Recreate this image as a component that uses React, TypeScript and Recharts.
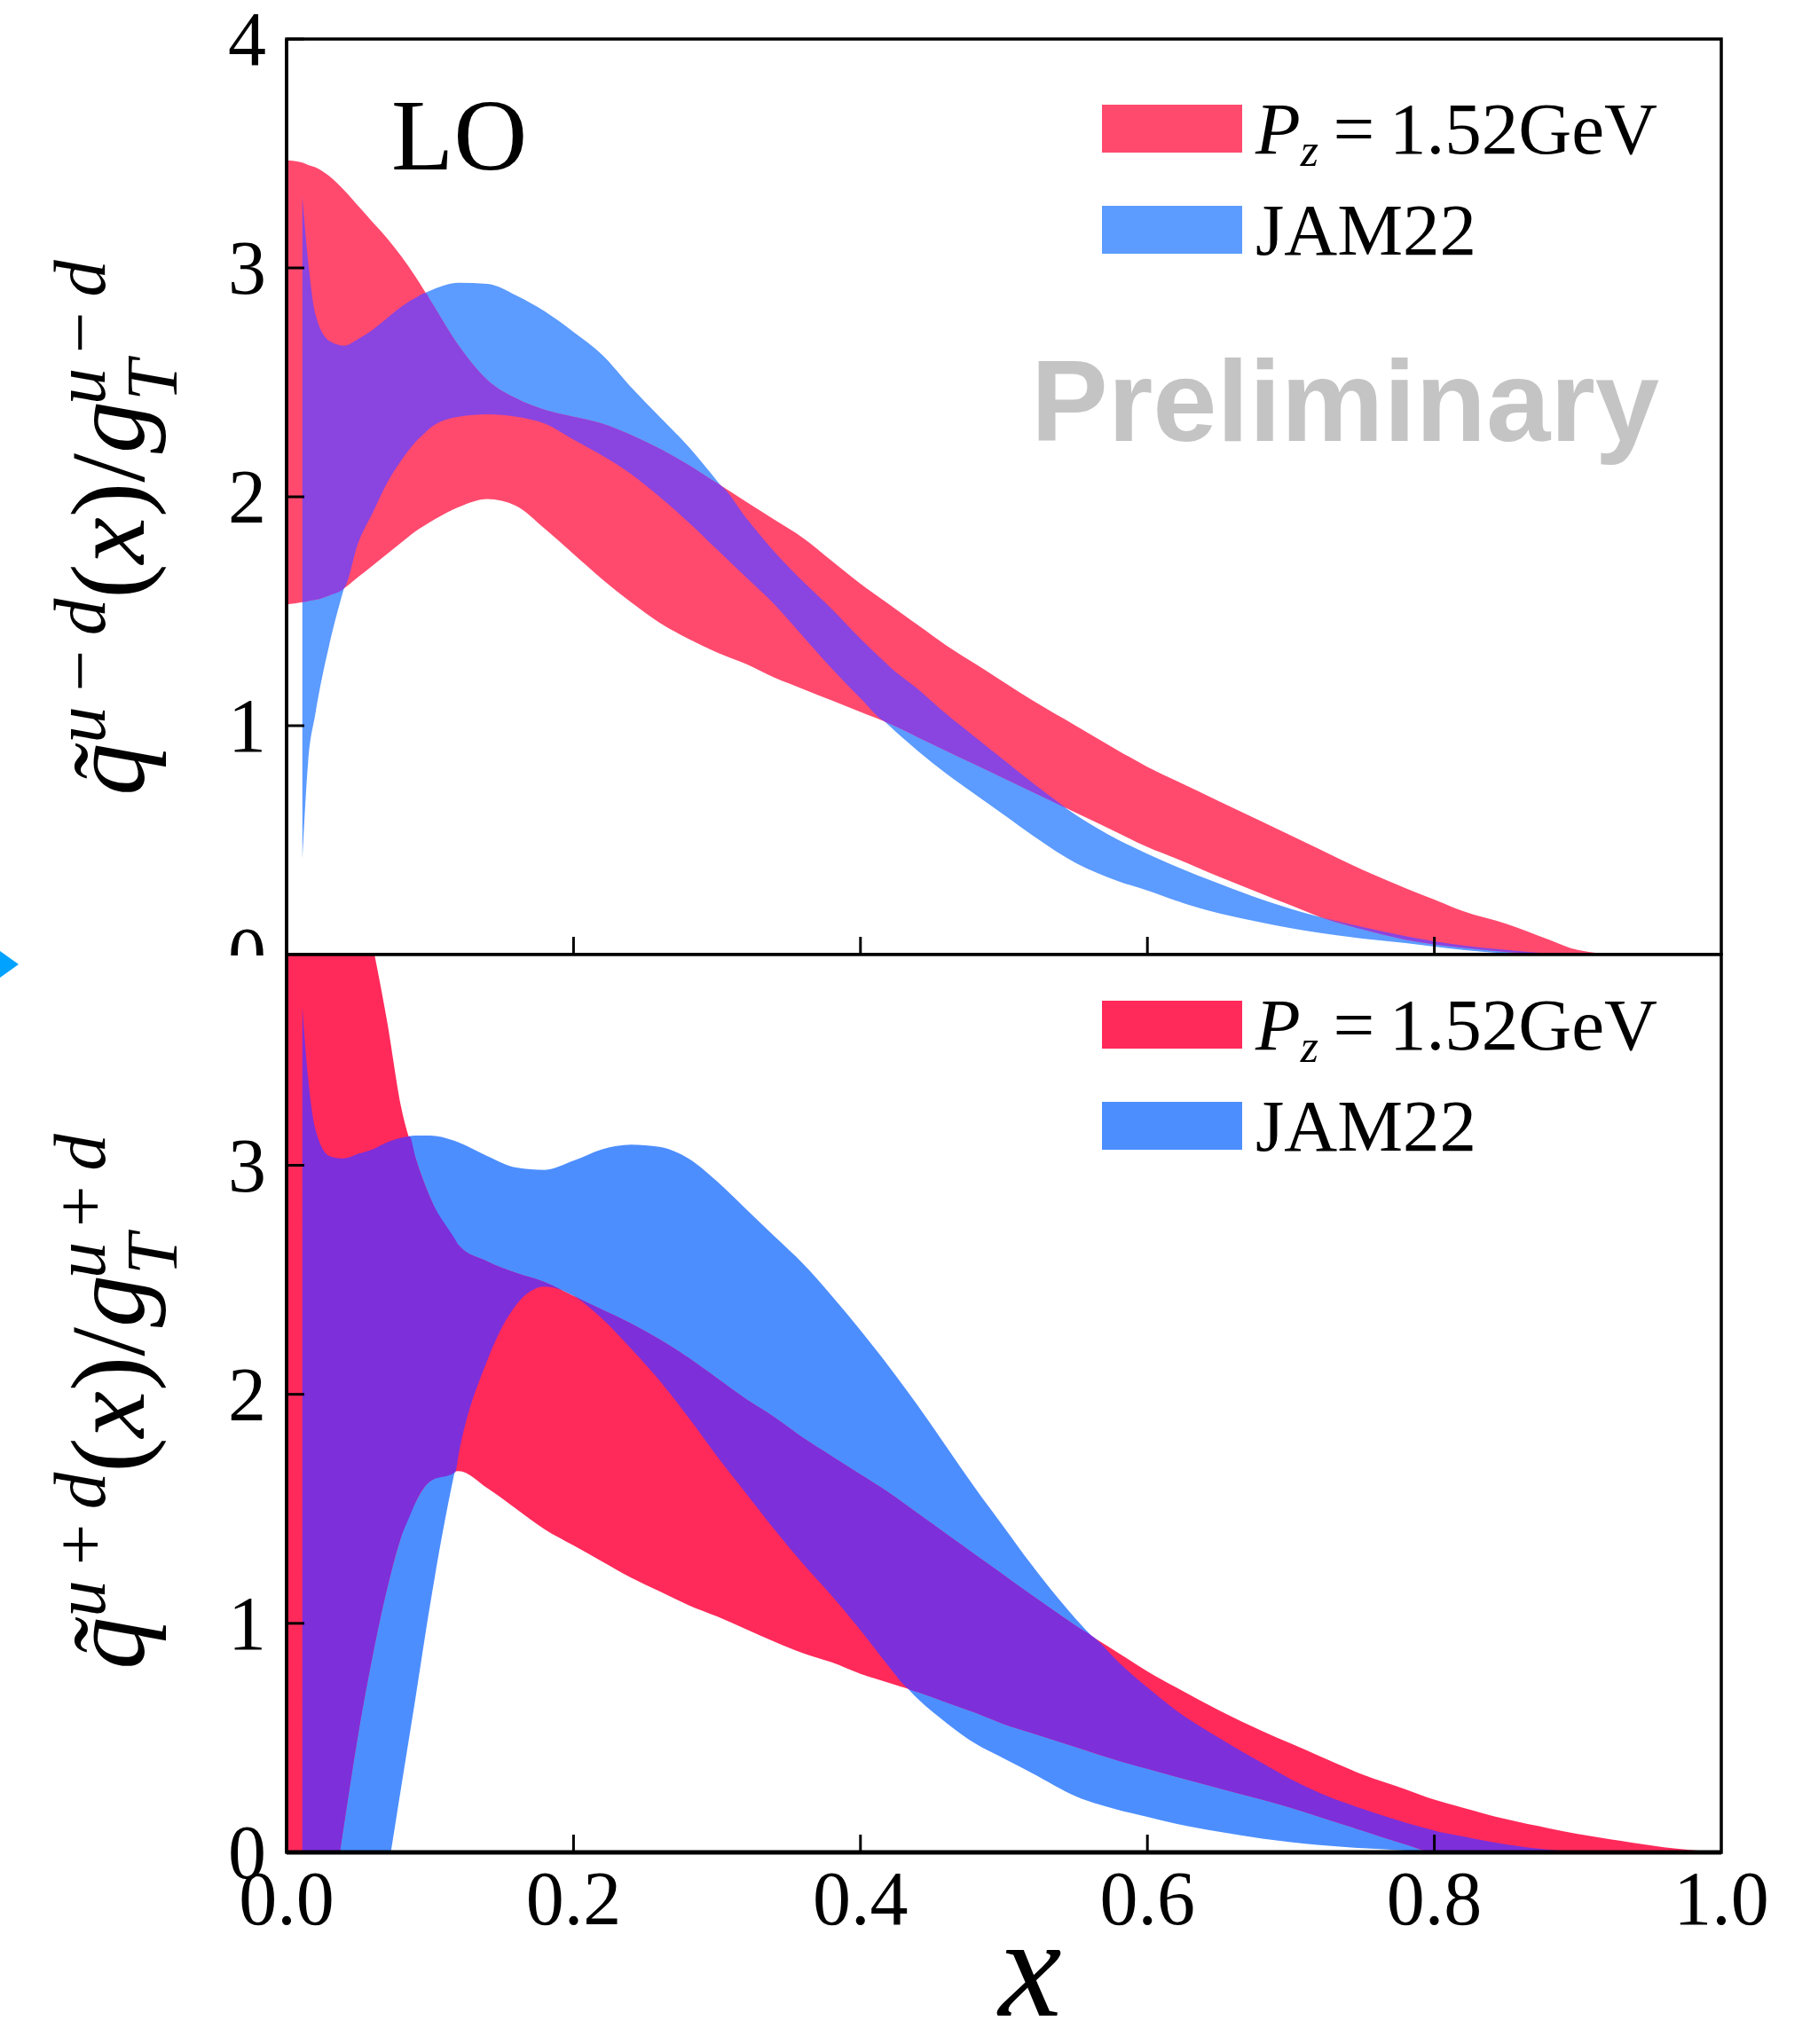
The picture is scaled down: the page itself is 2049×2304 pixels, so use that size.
import React from 'react';
import { ComposedChart, Area, XAxis, YAxis, Legend, ReferenceArea } from 'recharts';

const SERIF = '"Liberation Serif", "Times New Roman", Times, serif';
const SANS = '"Liberation Sans", Arial, Helvetica, sans-serif';

// x grid shared by every band
const X = [
  0, 0.011, 0.015, 0.02, 0.03, 0.04, 0.05, 0.06, 0.07, 0.08,
  0.09, 0.1, 0.12, 0.14, 0.16, 0.18, 0.2, 0.22, 0.24, 0.26,
  0.28, 0.3, 0.32, 0.34, 0.36, 0.38, 0.4, 0.42, 0.44, 0.46,
  0.48, 0.5, 0.52, 0.55, 0.58, 0.6, 0.62, 0.65, 0.68, 0.7,
  0.72, 0.75, 0.78, 0.8, 0.82, 0.85, 0.88, 0.9, 0.93, 0.96, 1.0,
];

// upper panel: u-d, lattice band (Pz = 1.52 GeV)
const UD_PZ_HI = [
  3.47, 3.46, 3.45, 3.44, 3.4, 3.34, 3.27, 3.2, 3.13, 3.05,
  2.96, 2.86, 2.66, 2.51, 2.43, 2.38, 2.35, 2.32, 2.27, 2.21,
  2.14, 2.06, 1.98, 1.9, 1.82, 1.72, 1.62, 1.53, 1.44, 1.35,
  1.27, 1.19, 1.11, 1.0, 0.89, 0.82, 0.76, 0.67, 0.58, 0.52,
  0.46, 0.37, 0.29, 0.24, 0.19, 0.135, 0.065, 0.02, 0, 0, 0,
];
const UD_PZ_LO = [
  1.53, 1.54, 1.545, 1.55, 1.57, 1.6, 1.65, 1.7, 1.75, 1.8,
  1.85, 1.89, 1.955, 1.99, 1.96, 1.86, 1.75, 1.64, 1.54, 1.45,
  1.38, 1.32, 1.27, 1.21, 1.16, 1.11, 1.06, 1.01, 0.95, 0.89,
  0.83, 0.77, 0.71, 0.62, 0.53, 0.47, 0.42, 0.34, 0.265, 0.215,
  0.165, 0.11, 0.065, 0.045, 0.03, 0.012, 0.003, 0, 0, 0, 0,
];
// upper panel: u-d, JAM22 band
const UD_JAM_HI = [
  null, 3.31, 3.03, 2.8, 2.68, 2.66, 2.69, 2.73, 2.78, 2.83,
  2.87, 2.9, 2.935, 2.93, 2.88, 2.81, 2.72, 2.62, 2.48, 2.35,
  2.22, 2.07, 1.91, 1.76, 1.63, 1.51, 1.38, 1.26, 1.16, 1.05,
  0.95, 0.85, 0.75, 0.61, 0.5, 0.44, 0.385, 0.31, 0.24, 0.2,
  0.165, 0.12, 0.08, 0.058, 0.04, 0.02, 0.005, 0, 0, 0, 0,
];
const UD_JAM_LO = [
  null, 0.42, 0.84, 1.05, 1.36, 1.6, 1.8, 1.93, 2.06, 2.16,
  2.24, 2.3, 2.35, 2.36, 2.35, 2.32, 2.25, 2.18, 2.1, 2.0,
  1.89, 1.77, 1.65, 1.53, 1.39, 1.25, 1.12, 1.0, 0.89, 0.79,
  0.7, 0.61, 0.52, 0.4, 0.32, 0.28, 0.235, 0.18, 0.14, 0.115,
  0.095, 0.07, 0.05, 0.035, 0.02, 0.005, 0, 0, 0, 0, 0,
];

// lower panel: u+d, lattice band
const UPD_PZ_HI = [
  5.8, 5.45, 5.32, 5.15, 4.85, 4.55, 4.25, 3.96, 3.63, 3.25,
  3.03, 2.86, 2.65, 2.58, 2.53, 2.49, 2.43, 2.37, 2.31, 2.24,
  2.16, 2.07, 1.98, 1.9, 1.81, 1.73, 1.65, 1.57, 1.48, 1.39,
  1.3, 1.21, 1.12, 0.99, 0.87, 0.79, 0.72, 0.62, 0.53, 0.475,
  0.42, 0.34, 0.275, 0.23, 0.195, 0.145, 0.105, 0.08, 0.05, 0.022, 0,
];
const UPD_PZ_LO = [
  -1.5, -1.05, -0.9, -0.7, -0.3, 0.12, 0.52, 0.86, 1.15, 1.38,
  1.53, 1.62, 1.665, 1.59, 1.5, 1.41, 1.34, 1.27, 1.2, 1.14,
  1.08, 1.03, 0.975, 0.92, 0.87, 0.83, 0.78, 0.74, 0.7, 0.655,
  0.61, 0.56, 0.52, 0.46, 0.4, 0.365, 0.33, 0.28, 0.23, 0.195,
  0.155, 0.095, 0.035, 0, 0, 0, 0, 0, 0, 0, 0,
];
// lower panel: u+d, JAM22 band
const UPD_JAM_HI = [
  null, 3.69, 3.38, 3.16, 3.04, 3.03, 3.05, 3.07, 3.1, 3.12,
  3.13, 3.13, 3.1, 3.04, 2.99, 2.98, 3.02, 3.07, 3.09, 3.08,
  3.03, 2.93, 2.81, 2.69, 2.57, 2.43, 2.28, 2.12, 1.95, 1.77,
  1.59, 1.42, 1.25, 1.02, 0.83, 0.72, 0.62, 0.5, 0.39, 0.32,
  0.26, 0.19, 0.13, 0.095, 0.07, 0.035, 0.012, 0.004, 0, 0, 0,
];
const UPD_JAM_LO = [
  null, -3.0, -2.7, -2.3, -1.7, -1.2, -0.8, -0.45, -0.1, 0.29,
  0.68, 1.08, 1.74, 2.15, 2.39, 2.47, 2.43, 2.33, 2.2, 2.06,
  1.9, 1.73, 1.57, 1.41, 1.26, 1.12, 0.97, 0.81, 0.67, 0.565,
  0.475, 0.41, 0.345, 0.245, 0.185, 0.155, 0.125, 0.09, 0.06, 0.045,
  0.032, 0.018, 0.008, 0.002, 0, 0, 0, 0, 0, 0, 0,
];

const X_TICKS = [0, 0.2, 0.4, 0.6, 0.8, 1.0];
const X_INNER = [0.2, 0.4, 0.6, 0.8];
const TOP_Y_TICKS = [0, 1, 2, 3, 4];
const BOT_Y_TICKS = [0, 1, 2, 3];
const SERIES_NAMES = ['P_z = 1.52GeV', 'JAM22'];

const TOP_COLORS = { red: '#FF4A6E', blue: '#5C9BFF', both: '#8A44E0' };
const BOT_COLORS = { red: '#FF2A5A', blue: '#4D8EFF', both: '#7D2FDA' };

type Band = [number, number] | null;
type Row = { x: number; red: Band; blue: Band; both: Band };

function overlapOf(r: Band, b: Band): Band {
  if (!r || !b) return null;
  const lo = Math.max(r[0], b[0]);
  const hi = Math.min(r[1], b[1]);
  return hi >= lo ? [lo, hi] : null;
}

// rows for the chart; the purple layer is where both bands overlap,
// with the crossing points of the band edges added so it closes cleanly
function buildRows(rLo: any[], rHi: any[], bLo: any[], bHi: any[]): Row[] {
  const rows: Row[] = [];
  for (let i = 0; i < X.length; i++) {
    const red: Band = rLo[i] != null ? [rLo[i], rHi[i]] : null;
    const blue: Band = bLo[i] != null ? [bLo[i], bHi[i]] : null;
    rows.push({ x: X[i], red, blue, both: overlapOf(red, blue) });
    if (i + 1 < X.length && red && blue && bLo[i + 1] != null) {
      const e0 = [rLo[i], rHi[i], bLo[i], bHi[i]];
      const e1 = [rLo[i + 1], rHi[i + 1], bLo[i + 1], bHi[i + 1]];
      const ts: number[] = [];
      [[1, 3], [0, 2], [1, 2], [3, 0]].forEach(([a, b]) => {
        const d0 = e0[a] - e0[b];
        const d1 = e1[a] - e1[b];
        if (d0 * d1 < 0) ts.push(d0 / (d0 - d1));
      });
      ts.sort((p, q) => p - q);
      ts.forEach((t) => {
        const e = e0.map((v, k) => v + (e1[k] - v) * t);
        const lo = Math.max(e[0], e[2]);
        const hi = Math.min(e[1], e[3]);
        rows.push({
          x: X[i] + (X[i + 1] - X[i]) * t,
          red: null,
          blue: null,
          both: hi >= lo - 1e-9 ? [lo, Math.max(lo, hi)] : null,
        });
      });
    }
  }
  return rows;
}

const topRows = buildRows(UD_PZ_LO, UD_PZ_HI, UD_JAM_LO, UD_JAM_HI);
const botRows = buildRows(UPD_PZ_LO, UPD_PZ_HI, UPD_JAM_LO, UPD_JAM_HI);

const TICK_LEN = 20;
const Y_GAP = 23;

function YTick(props: any) {
  const { x, y, payload } = props;
  const ax = x + Y_GAP;
  return (
    <g>
      {payload.value > 0 && (
        <line x1={ax} x2={ax + TICK_LEN} y1={y} y2={y} stroke="#000" strokeWidth={3} />
      )}
      <text x={x} y={y + 29} textAnchor="end" fontFamily={SERIF} fontSize={86} fill="#000">
        {payload.value}
      </text>
    </g>
  );
}

function XTick(props: any) {
  const { x, y, payload, showLabel } = props;
  return (
    <g>
      {X_INNER.includes(payload.value) && (
        <line x1={x} x2={x} y1={y} y2={y - TICK_LEN} stroke="#000" strokeWidth={3} />
      )}
      {showLabel && (
        <text x={x} y={y + 81} textAnchor="middle" fontFamily={SERIF} fontSize={86} fill="#000">
          {payload.value.toFixed(1)}
        </text>
      )}
    </g>
  );
}

function LegendBox({ colors }: { colors: string[] }) {
  return (
    <div style={{ fontFamily: SERIF, color: '#000' }}>
      {SERIES_NAMES.map((name, i) => (
        <div key={name} style={{ display: 'flex', height: 54, marginBottom: i === 0 ? 60 : 0 }}>
          <div style={{ width: 158, height: 54, background: colors[i] }} />
          <span style={{ marginLeft: 15, fontSize: 83, lineHeight: '54px', whiteSpace: 'nowrap' }}>
            {name.startsWith('P_z') ? (
              <>
                <i>P</i>
                <i style={{ fontSize: 52, position: 'relative', top: 14 }}>z</i>
                {name.slice(3).replace(' = ', '\u2009=\u2009')}
              </>
            ) : (
              name
            )}
          </span>
        </div>
      ))}
    </div>
  );
}

const frameStroke = { stroke: '#000', strokeWidth: 3.5 };

function Panel({
  rows, colors, height, margin, yMax, yTicks, xHeight, showXLabels, legendTop, xAxisWidth,
}: any) {
  return (
    <ComposedChart width={2049} height={height} data={rows} margin={margin}>
      <XAxis
        type="number" dataKey="x" domain={[0, 1]} ticks={X_TICKS} height={xHeight}
        axisLine={{ stroke: '#000', strokeWidth: xAxisWidth }} tickLine={false} tickSize={0} tickMargin={0}
        tick={<XTick showLabel={showXLabels} />} interval={0}
      />
      <YAxis
        type="number" domain={[0, yMax]} ticks={yTicks} width={100} allowDataOverflow
        axisLine={frameStroke} tickLine={false} tickSize={0} tickMargin={Y_GAP}
        tick={<YTick />} interval={0}
      />
      <Area
        type="monotone" dataKey="blue" stroke="none" fill={colors.blue} fillOpacity={1}
        connectNulls isAnimationActive={false} dot={false} activeDot={false}
      />
      <Area
        type="monotone" dataKey="red" stroke="none" fill={colors.red} fillOpacity={1}
        connectNulls isAnimationActive={false} dot={false} activeDot={false}
      />
      <Area
        type="monotone" dataKey="both" stroke="none" fill={colors.both} fillOpacity={1}
        connectNulls={false} isAnimationActive={false} dot={false} activeDot={false}
      />
      {/* plot frame */}
      <ReferenceArea
        x1={0} x2={1} y1={0} y2={yMax} fill="none" fillOpacity={0}
        stroke="#000" strokeWidth={3.5} ifOverflow="visible"
      />
      <Legend
        layout="vertical" align="center" verticalAlign="middle"
        wrapperStyle={{ left: 1242, top: legendTop, width: 700, height: 'auto' }}
        content={() => <LegendBox colors={[colors.red, colors.blue]} />}
      />
    </ComposedChart>
  );
}

function YTitle({ cx, cy, op }: { cx: number; cy: number; op: string }) {
  const S = 83;
  return (
    <text
      transform={`translate(${cx},${cy}) rotate(-90)`} textAnchor="middle"
      fontFamily={SERIF} fontSize={118} fill="#000"
    >
      <tspan fontStyle="italic">{'q\u0303'}</tspan>
      <tspan fontSize={S} fontStyle="italic" dy={-44}>u</tspan>
      <tspan fontSize={S}>{`\u2009${op}\u2009`}</tspan>
      <tspan fontSize={S} fontStyle="italic">d</tspan>
      <tspan dy={44}>(</tspan>
      <tspan fontStyle="italic">x</tspan>
      <tspan>{')/'}</tspan>
      <tspan fontStyle="italic">g</tspan>
      <tspan fontSize={S} fontStyle="italic" dy={37}>T</tspan>
      <tspan fontSize={S} fontStyle="italic" dx={-46} dy={-81}>u</tspan>
      <tspan fontSize={S}>{`\u2009${op}\u2009`}</tspan>
      <tspan fontSize={S} fontStyle="italic">d</tspan>
    </text>
  );
}

export default function App() {
  return (
    <div style={{ position: 'absolute', left: 0, top: 0, width: 2049, height: 2304, background: '#fff', overflow: 'hidden' }}>
      <div style={{ position: 'absolute', left: 0, top: 0 }}>
        <Panel
          rows={topRows} colors={TOP_COLORS} height={1140}
          margin={{ top: 44, right: 109, bottom: 4, left: 223 }}
          yMax={4} yTicks={TOP_Y_TICKS} xHeight={60} showXLabels={false} legendTop={118}
          xAxisWidth={3.5}
        />
      </div>
      <div style={{ position: 'absolute', left: 0, top: 1077, width: 2049, height: 1227, background: '#fff' }} />
      <div style={{ position: 'absolute', left: 0, top: 1070 }}>
        <Panel
          rows={botRows} colors={BOT_COLORS} height={1234}
          margin={{ top: 6, right: 109, bottom: 96, left: 223 }}
          yMax={3.92} yTicks={BOT_Y_TICKS} xHeight={120} showXLabels legendTop={58}
          xAxisWidth={5}
        />
      </div>
      <svg
        width={2049} height={2304}
        style={{ position: 'absolute', left: 0, top: 0, pointerEvents: 'none' }}
      >
        <text x={441} y={191} fontFamily={SERIF} fontSize={115} fill="#000">LO</text>
        <text x={1162} y={497} fontFamily={SANS} fontWeight="bold" fontSize={130} fill="#C4C4C4">
          Preliminary
        </text>
        <YTitle cx={162} cy={595} op={'\u2212'} />
        <YTitle cx={162} cy={1580} op="+" />
        <text x={1161} y={2272} textAnchor="middle" fontFamily={SERIF} fontStyle="italic" fontSize={160} fill="#000">
          x
        </text>
        <polygon points="0,1072 21,1087 0,1102" fill="#00A2FF" />
      </svg>
    </div>
  );
}
